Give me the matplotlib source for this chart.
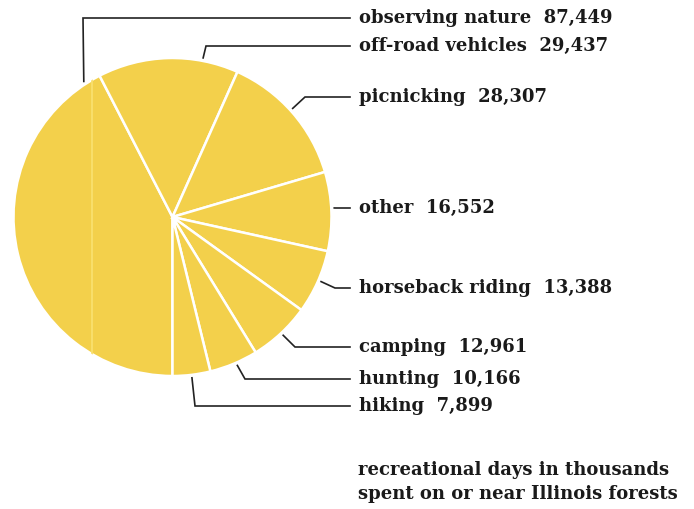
import numpy as np
import matplotlib.pyplot as plt

# recreational days (thousands), clockwise from the bottom of the pie
activities = ['observing nature', 'off-road vehicles', 'picnicking', 'other',
              'horseback riding', 'camping', 'hunting', 'hiking']
days = [87449, 29437, 28307, 16552, 13388, 12961, 10166, 7899]

W, H = 694, 509
yellow = '#F3D04B'
font = dict(family='DejaVu Serif', weight='bold', size=13, color='#1a1a1a')

fig = plt.figure(figsize=(W / 100, H / 100), dpi=100)
ax = fig.add_axes([0, 0, 1, 1])

cx, cy, r = 172.5, H - 217, 159
wedges, _ = ax.pie(days, colors=[yellow] * len(days), startangle=270,
                   counterclock=False, center=(cx, cy), radius=r,
                   wedgeprops=dict(edgecolor='white', linewidth=1.8))

# pie() resets the view, so pin the pixel-sized axes afterwards
ax.set_xlim(0, W)
ax.set_ylim(0, H)
ax.set_aspect('equal')
ax.axis('off')

# pale crease running through the big slice
ys = np.sqrt(r ** 2 - 80.5 ** 2)
crease, = ax.plot([cx - 80.5, cx - 80.5], [cy - ys, cy + ys],
                  color='#F9E06E', lw=1.3, zorder=3)
crease.set_clip_path(wedges[0])

# leader lines: angle where they leave the rim, elbow x, label row
anchor_deg = [123.2, 79.1, 42.1, 3.2, -23.5, -46.9, -66.4, -83.1]
elbow_x = [83, 206, 305, 335, 335, 295, 245, 195]
label_y = [18, 46, 97, 208, 288, 347, 379, 406]
text_x = 359

for name, val, a, ex, ly in zip(activities, days, anchor_deg, elbow_x, label_y):
    t = np.radians(a)
    sx, sy = cx + (r + 3) * np.cos(t), cy + (r + 3) * np.sin(t)
    y = H - ly
    ax.plot([sx, ex, 350], [sy, y, y], color='#222222', lw=1.2,
            solid_joinstyle='miter')
    ax.text(text_x, y, f'{name}  {val:,}', ha='left', va='center', **font)

ax.text(358, H - 470, 'recreational days in thousands', ha='left',
        va='center', **font)
ax.text(358, H - 494, 'spent on or near Illinois forests', ha='left',
        va='center', **font)

fig.savefig('out.png', dpi=100)
